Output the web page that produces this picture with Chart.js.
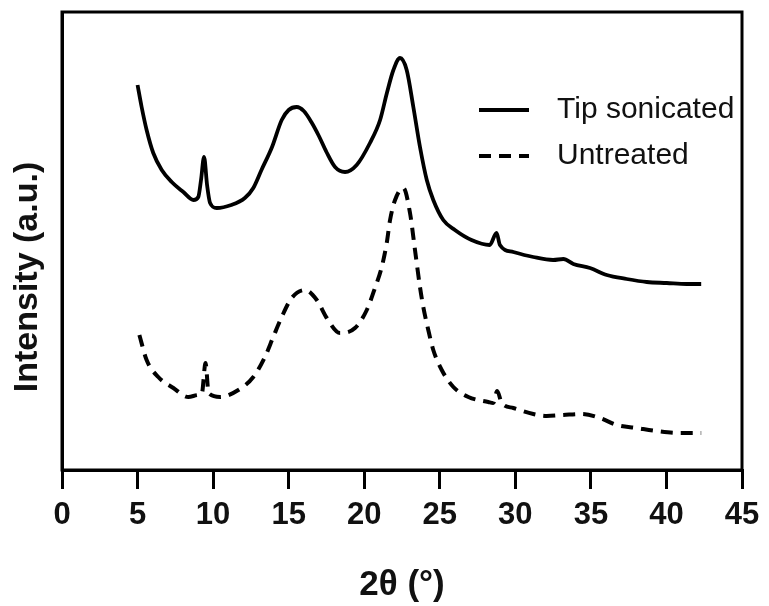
<!DOCTYPE html>
<html>
<head>
<meta charset="utf-8">
<script src="https://cdn.jsdelivr.net/npm/chart.js@4/dist/chart.umd.min.js"></script>
<style>
  html, body { margin: 0; padding: 0; background: #fff; }
  #wrap { width: 769px; height: 606px; }
</style>
</head>
<body>
<div id="wrap"><canvas id="xrd"></canvas></div>
<script>
// 2-theta positions (deg) and intensity (a.u.)
const tipAngle = [5.0, 5.27, 5.6, 6.04, 6.6, 7.26, 8.03, 8.7, 9.02, 9.2, 9.4, 9.6, 9.8, 10.24, 11.2, 12.1, 12.66, 13.2, 13.9, 14.54, 15.0, 15.53, 16.0, 16.5, 17.0, 17.5, 18.07, 18.73, 19.5, 20.38, 21.05, 21.5, 21.93, 22.37, 22.81, 23.25, 23.69, 24.14, 24.57, 25.23, 26.0, 27.1, 28.3, 28.76, 28.98, 29.87, 31.19, 32.5, 33.18, 33.84, 34.94, 36.05, 37.37, 38.7, 40.02, 41.34, 42.3];
const tipIntensity = [385, 363, 340, 317, 300, 288, 278, 270, 273, 290, 313, 285, 267, 262, 265, 272, 282, 300, 323, 350, 360, 363, 359, 348, 334, 318, 303, 298, 305, 327, 350, 377, 400, 412, 400, 363, 323, 290, 270, 250, 240, 230, 225, 237, 225, 218, 213, 210, 211, 206, 202, 195, 191, 188, 187, 186, 186];

const rawAngle = [5.12, 5.6, 6.37, 7.37, 8.36, 9.0, 9.25, 9.5, 9.7, 10.46, 11.67, 12.66, 13.43, 13.98, 14.54, 15.2, 16.08, 16.86, 17.52, 18.4, 19.39, 20.17, 20.71, 21.16, 21.49, 21.71, 22.04, 22.59, 23.03, 23.36, 23.69, 23.91, 24.24, 24.57, 25.13, 25.9, 26.89, 28.21, 28.54, 28.8, 29.1, 29.87, 31.19, 32.07, 33.18, 34.39, 35.6, 36.71, 38.03, 39.36, 40.9, 42.3];
const rawIntensity = [135, 110, 93, 82, 73, 75, 76, 107, 77, 73, 80, 93, 113, 133, 153, 172, 180, 170, 152, 137, 142, 160, 182, 203, 227, 250, 270, 282, 257, 220, 183, 163, 140, 120, 100, 83, 73, 68, 67, 79, 67, 62, 56, 54, 55, 56, 52, 45, 42, 39, 37, 37];

const xTicks = [0, 5, 10, 15, 20, 25, 30, 35, 40, 45];
const seriesNames = ['Tip sonicated', 'Untreated'];
const yTitle = 'Intensity (a.u.)';

const toPoints = (xs, ys) => xs.map((x, i) => ({x: x, y: ys[i]}));

// frame around the plot, legend inside the plot area, y title
const framePlugin = {
    id: 'frame',
    afterDraw(chart) {
        const {ctx, chartArea: a} = chart;
        ctx.save();
        ctx.strokeStyle = '#000';
        ctx.lineWidth = 3;
        ctx.strokeRect(a.left, a.top, a.right - a.left, a.bottom - a.top);

        ctx.font = '30px "Liberation Sans", Arial, sans-serif';
        ctx.fillStyle = '#111';
        ctx.textBaseline = 'alphabetic';
        chart.data.datasets.forEach((ds, i) => {
            const y = a.top + 98 + i * 46;
            ctx.beginPath();
            ctx.lineWidth = ds.borderWidth;
            ctx.setLineDash(ds.borderDash || []);
            ctx.moveTo(a.right - 263, y);
            ctx.lineTo(a.right - 213, y);
            ctx.stroke();
            ctx.setLineDash([]);
            ctx.fillText(ds.label, a.right - 185, y + 8);
        });

        // axis title sits a bit below the middle of the axis in the original
        ctx.translate(28, 277);
        ctx.rotate(-Math.PI / 2);
        ctx.font = 'bold 34px "Liberation Sans", Arial, sans-serif';
        ctx.textAlign = 'center';
        ctx.textBaseline = 'middle';
        ctx.fillText(yTitle, 0, 0);
        ctx.restore();
    }
};

new Chart(document.getElementById('xrd'), {
    type: 'line',
    data: {
        datasets: [
            {
                label: seriesNames[0],
                data: toPoints(tipAngle, tipIntensity),
                borderColor: '#000',
                borderWidth: 3.8,
                pointRadius: 0,
                cubicInterpolationMode: 'monotone',
                fill: false
            },
            {
                label: seriesNames[1],
                data: toPoints(rawAngle, rawIntensity),
                borderColor: '#000',
                borderWidth: 4,
                borderDash: [12, 8],
                pointRadius: 0,
                cubicInterpolationMode: 'monotone',
                fill: false
            }
        ]
    },
    options: {
        responsive: true,
        maintainAspectRatio: false,
        animation: false,
        layout: { padding: { top: 12, right: 27, left: 0, bottom: 0 } },
        plugins: {
            legend: { display: false },
            tooltip: { enabled: false }
        },
        scales: {
            x: {
                type: 'linear',
                min: 0,
                max: 45,
                afterFit: (s) => { s.height = 136; },
                afterBuildTicks: (s) => { s.ticks = xTicks.map(v => ({value: v})); },
                border: { display: true, color: '#000', width: 3 },
                grid: { display: true, drawOnChartArea: false, drawTicks: true, tickLength: 19, color: '#000', lineWidth: 3 },
                ticks: {
                    color: '#111',
                    padding: 8,
                    maxRotation: 0,
                    font: { family: '"Liberation Sans", Arial, sans-serif', size: 31, weight: 'bold' }
                },
                title: {
                    display: true,
                    text: '2θ (°)',
                    color: '#111',
                    padding: { top: 0, bottom: 0 },
                    font: { family: '"Liberation Sans", Arial, sans-serif', size: 35, weight: 'bold' }
                }
            },
            y: {
                min: 0,
                max: 458,
                afterFit: (s) => { s.width = 62; },
                border: { display: true, color: '#000', width: 3 },
                grid: { display: false },
                ticks: { display: false },
                title: { display: false }
            }
        }
    },
    plugins: [framePlugin]
});
</script>
</body>
</html>
